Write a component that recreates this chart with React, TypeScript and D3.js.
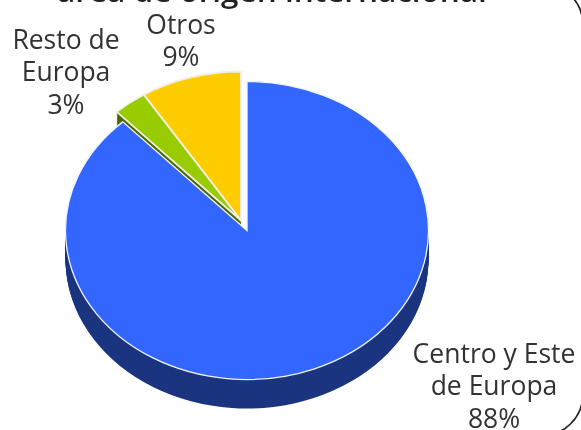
import React from "react";
import * as d3 from "d3";

const categories = ["Centro y Este de Europa", "Resto de Europa", "Otros"];
const values = [88, 3, 9];
const topColors = ["#3366FF", "#99CC00", "#FFCC00"];
const wallColors = ["#1A3480", "#4D6600", "#806600"];
const explodeX = [0, -6, -6];
const explodeY = [0, -10, -10];
const labelLines = [
  ["Centro y Este", "de Europa", "88%"],
  ["Resto de", "Europa", "3%"],
  ["Otros", "9%"],
];
const labelX = [494, 66, 181];
const labelY = [362.5, 48.5, 33.5];
const titleText = "área de origen internacional";

const W = 581;
const H = 430;
const cx = 247;
const cy = 230.5;
const rx = 181.5;
const ry = 149;
const depth = 29;
const lineGap = 32.5;

export default function App() {
  const slices = d3.pie<number>().sort(null)(values);
  const arc = d3.arc<d3.PieArcDatum<number>>().innerRadius(0).outerRadius(rx);
  const yScale = ry / rx;
  const depths = d3.range(1, depth + 1);
  const sliceTf = (i: number, dy = 0) =>
    `translate(${cx + explodeX[i]},${cy + explodeY[i] + dy}) scale(1,${yScale})`;
  const topOrder = [0, 2, 1];

  return (
    <svg
      width={W}
      height={H}
      viewBox={`0 0 ${W} ${H}`}
      style={{ position: "absolute", left: 0, top: 0, background: "#fff" }}
    >
      <defs>
        <filter id="soft" x="-5%" y="-5%" width="110%" height="110%">
          <feGaussianBlur stdDeviation="0.55" />
        </filter>
      </defs>
      <rect
        x={-100}
        y={-17}
        width={683}
        height={453}
        rx={42}
        fill="none"
        stroke="#222"
        strokeWidth={1.6}
        filter="url(#soft)"
      />
      <text
        x={272}
        y={1.5}
        textAnchor="middle"
        fontFamily="'Open Sans', sans-serif"
        fontWeight={600}
        fontSize={31.5}
        fill="#222"
        filter="url(#soft)"
      >
        {titleText}
      </text>
      <g>
        {topOrder.map((i) =>
          depths.map((d) => (
            <path
              key={`${i}-${d}`}
              d={arc(slices[i]) ?? ""}
              transform={sliceTf(i, d)}
              fill={wallColors[i]}
            />
          ))
        )}
        {topOrder.map((i) => (
          <path
            key={categories[i]}
            d={arc(slices[i]) ?? ""}
            transform={sliceTf(i)}
            fill={topColors[i]}
            stroke={i === 0 ? "#F2F4FF" : "#F0F0E8"}
            strokeWidth={i === 0 ? 1.3 : 1.8}
            vectorEffect="non-scaling-stroke"
          />
        ))}
      </g>
      <g
        fontFamily="'Open Sans', sans-serif"
        fontSize={26.5}
        fill="#333"
        textAnchor="middle"
        filter="url(#soft)"
      >
        {labelLines.map((lines, i) =>
          lines.map((line, j) => (
            <text key={line} x={labelX[i]} y={labelY[i] + j * lineGap}>
              {line}
            </text>
          ))
        )}
      </g>
    </svg>
  );
}
